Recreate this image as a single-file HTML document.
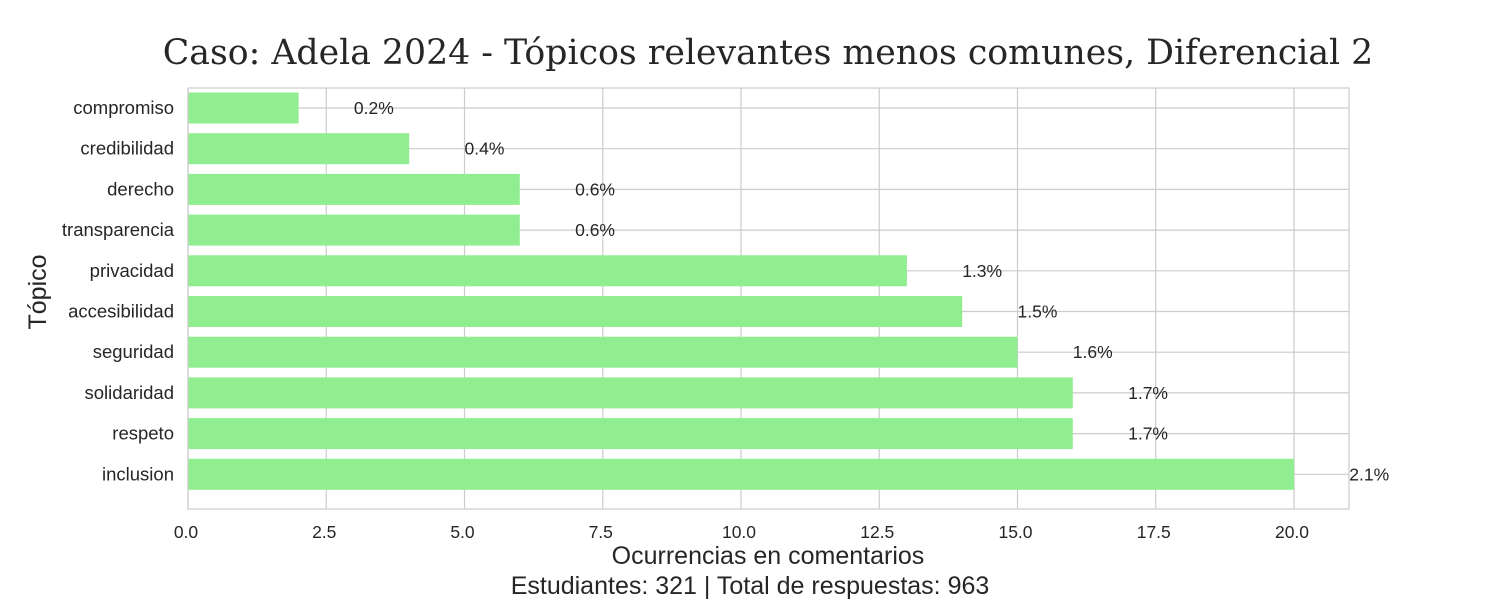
<!DOCTYPE html>
<html><head><meta charset="utf-8"><style>
body{margin:0;background:#fff}
svg text{font-family:"Liberation Sans",sans-serif;fill:#262626}
</style></head><body>
<svg id="c" width="1500" height="600">
<text x="768" y="64" text-anchor="middle" style="font-family:'DejaVu Serif','Liberation Serif',serif;font-size:34.7px">Caso: Adela 2024 - Tópicos relevantes menos comunes, Diferencial 2</text>
<g id="grid"></g><g id="bars"></g><g id="labels"></g>
<rect x="188" y="88" width="1161" height="421" fill="none" stroke="#ccc" stroke-width="1.2"/>
<text transform="translate(46,292) rotate(-90)" text-anchor="middle" font-size="25">Tópico</text>
<text x="768" y="564" text-anchor="middle" font-size="25">Ocurrencias en comentarios</text>
<text x="750" y="594" text-anchor="middle" font-size="25">Estudiantes: 321 | Total de respuestas: 963</text>
</svg>
<script>
const categories=["compromiso","credibilidad","derecho","transparencia","privacidad","accesibilidad","seguridad","solidaridad","respeto","inclusion"];
const values=[2,4,6,6,13,14,15,16,16,20];
const pctLabels=["0.2%","0.4%","0.6%","0.6%","1.3%","1.5%","1.6%","1.7%","1.7%","2.1%"];
const xTicks=[0,2.5,5,7.5,10,12.5,15,17.5,20];
const NS="http://www.w3.org/2000/svg";
const x=v=>188+v*55.3;
const y=i=>108+i*40.7;
function mk(t,a,p){const e=document.createElementNS(NS,t);for(const k in a)e.setAttribute(k,a[k]);p.appendChild(e);return e;}
const g=document.getElementById('grid'),b=document.getElementById('bars'),l=document.getElementById('labels');
xTicks.forEach(t=>{
 const ln=mk('line',{x1:x(t),x2:x(t),y1:88,y2:509,stroke:'#ccc','stroke-width':1.2},g);
 
 
 const tx=mk('text',{x:x(t)-2,y:538,'text-anchor':'middle','font-size':17.5},l);
 tx.textContent=t.toFixed(1);
 
 
});
categories.forEach((c,i)=>{
 const ln=mk('line',{x1:188,x2:1349,y1:y(i),y2:y(i),stroke:'#ccc','stroke-width':1.2},g);
 
 
 const r=mk('rect',{x:x(0),y:y(i)-15.5,width:x(values[i])-x(0),height:31,fill:'#90ee90'},b);
 
 
 const tl=mk('text',{x:174,y:y(i)+6,'text-anchor':'end','font-size':18.5},l);
 tl.textContent=c;
 
 
 const vl=mk('text',{x:x(values[i]+1),y:y(i)+6,'font-size':17.5},l);
 vl.textContent=pctLabels[i];
 
 
});
</script>
</body></html>
